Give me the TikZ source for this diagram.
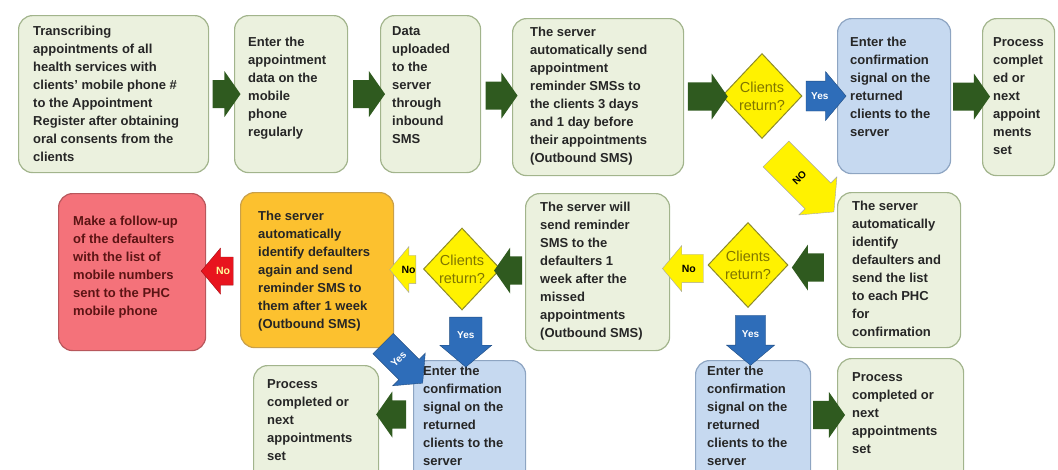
\documentclass[tikz,border=0pt]{standalone}
\usepackage{fontspec}
\setmainfont{Liberation Sans}
\usetikzlibrary{shapes.geometric, shapes.arrows, calc}

\definecolor{boxgreen}{HTML}{EBF1DE}
\definecolor{linegreen}{HTML}{A2B48C}
\definecolor{boxblue}{HTML}{C6D9F0}
\definecolor{lineblue}{HTML}{8EA5C2}
\definecolor{boxorange}{HTML}{FCC12F}
\definecolor{lineorange}{HTML}{C9A04A}
\definecolor{boxred}{HTML}{F4727A}
\definecolor{linered}{HTML}{B8575C}
\definecolor{textred}{HTML}{5C1414}
\definecolor{darkgreen}{HTML}{2F5A1F}
\definecolor{arrowblue}{HTML}{2E6DB9}
\definecolor{arrowred}{HTML}{E8141E}
\definecolor{diamline}{HTML}{8C8A2A}
\definecolor{diamtext}{HTML}{807600}

\tikzset{
    flow/.style={rectangle, rounded corners=14pt, line width=1.2pt,
        anchor=north west, inner sep=0pt},
    gbox/.style={flow, fill=boxgreen, draw=linegreen},
    bbox/.style={flow, fill=boxblue, draw=lineblue},
    obox/.style={flow, fill=boxorange, draw=lineorange},
    rbox/.style={flow, fill=boxred, draw=linered},
    txt/.style={anchor=north west, inner sep=0pt, align=left,
        font=\bfseries\fontsize{13}{18}\selectfont, text=black!85},
    query/.style={diamond, fill=yellow, draw=diamline, line width=1pt,
        inner sep=-4pt, minimum width=80pt, minimum height=85pt, align=center,
        text=diamtext, font=\fontsize{14.5}{18}\selectfont},
    blk/.style={single arrow, inner xsep=0pt, draw=none},
    garrow/.style={blk, fill=darkgreen, inner ysep=11pt, minimum width=46pt,
        single arrow tip angle=110},
    yesarrow/.style={blk, fill=arrowblue, draw=arrowblue!70!black, line width=.4pt,
        text=white, font=\bfseries\fontsize{10}{10}\selectfont,
        text height=7pt, text depth=0pt, inner ysep=7.5pt, minimum width=49pt,
        single arrow tip angle=100},
    noarrow/.style={blk, fill=yellow, draw=gray!70, line width=.4pt,
        font=\bfseries\fontsize{10.5}{10}\selectfont,
        text height=7pt, text depth=0pt, inner ysep=7.5pt, minimum width=46pt,
        single arrow tip angle=100},
    redarrow/.style={noarrow, fill=arrowred, draw=arrowred!70!black, text=yellow!40},
    tilted/.style={rotate=45, inner sep=0pt, font=\bfseries\fontsize{10}{10}\selectfont},
}

\begin{document}
\begin{tikzpicture}[x=1pt, y=-1pt]
    \useasboundingbox (0,0) rectangle (1058,469);
    \clip (0,0) rectangle (1058,469);

    % top row
    \node[gbox, minimum width=190pt, minimum height=157pt] (b1) at (18,15) {};
    \node[txt] (b1t) at ([shift={(15,11)}]b1.north west)
        {Transcribing\\appointments of all\\health services with\\clients' mobile phone \#\\to the Appointment\\Register after obtaining\\oral consents from the\\clients};
    \node[gbox, minimum width=113pt, minimum height=157pt] (b2) at (234,15) {};
    \node[txt] (b2t) at ([shift={(14,22)}]b2.north west)
        {Enter the\\appointment\\data on the\\mobile\\phone\\regularly};
    \node[gbox, minimum width=100pt, minimum height=157pt] (b3) at (380,15) {};
    \node[txt] (b3t) at ([shift={(12,11)}]b3.north west)
        {Data\\uploaded\\to the\\server\\through\\inbound\\SMS};
    \node[gbox, minimum width=171pt, minimum height=157pt] (b4) at (512,18) {};
    \node[txt] (b4t) at ([shift={(18,9)}]b4.north west)
        {The server\\automatically send\\appointment\\reminder SMSs to\\the clients 3 days\\and 1 day before\\their appointments\\(Outbound SMS)};
    \node[query] (d1) at (762,96) {Clients\\return?};
    \node[bbox, minimum width=113pt, minimum height=155pt] (b5) at (837,18) {};
    \node[txt] (b5t) at ([shift={(13,19)}]b5.north west)
        {Enter the\\confirmation\\signal on the\\returned\\clients to the\\server};
    \node[gbox, minimum width=72pt, minimum height=157pt] (b6) at (982,18) {};
    \node[txt] (b6t) at ([shift={(11,19)}]b6.north west)
        {Process\\complet\\ed or\\next\\appoint\\ments\\set};

    \node[garrow, minimum height=28pt] (a12) at ($(b1.east)!.5!(b2.west)$) {};
    \node[garrow, minimum height=32pt] (a23) at ($(b2.east)!.5!(b3.west)$) {};
    \node[garrow, minimum height=32pt] (a34) at ($(b3.east)!.5!(b4.west)$) {};
    \node[garrow, minimum height=40pt] (a4d) at ($(b4.east)!.5!(d1.west)$) {};
    \node[yesarrow, minimum height=40pt] (y1) at ($(d1.east)!.5!(b5.west)$) {Yes};
    \node[garrow, minimum height=37pt] (a56) at ($(b5.east)!.5!(b6.west)$) {};

    % middle row
    \node[gbox, minimum width=123pt, minimum height=155pt] (b7) at (837,192) {};
    \node[txt] (b7t) at ([shift={(15,9)}]b7.north west)
        {The server\\automatically\\identify\\defaulters and\\send the list\\to each PHC\\for\\confirmation};
    \node[query] (d2) at (748,265) {Clients\\return?};
    \node[gbox, minimum width=144pt, minimum height=157pt] (b8) at (525,193) {};
    \node[txt] (b8t) at ([shift={(15,9)}]b8.north west)
        {The server will\\send reminder\\SMS to the\\defaulters 1\\week after the\\missed\\appointments\\(Outbound SMS)};
    \node[query, minimum width=77pt, minimum height=82pt] (d3) at (462,269) {Clients\\return?};
    \node[obox, minimum width=153pt, minimum height=155pt] (b9) at (240,192) {};
    \node[txt] (b9t) at ([shift={(18,19)}]b9.north west)
        {The server\\automatically\\identify defaulters\\again and send\\reminder SMS to\\them after 1 week\\(Outbound SMS)};
    \node[rbox, minimum width=147pt, minimum height=157pt] (b10) at (58,193) {};
    \node[txt, text=textred] (b10t) at ([shift={(15,23)}]b10.north west)
        {Make a follow-up\\of the defaulters\\with the list of\\mobile numbers\\sent to the PHC\\mobile phone};

    \node[noarrow, rotate=-45, minimum height=82pt, minimum width=54pt,
        inner ysep=11pt] (n1) at ($(d1.south)!.5!(b7.north west)+(0,12)$) {};
    \node[tilted] (n1t) at (n1.center) {NO};
    \node[garrow, shape border rotate=180, minimum height=32pt] (a7d) at ($(b7.west)!.5!(d2.east)$) {};
    \node[noarrow, shape border rotate=180, minimum height=41pt] (n2) at ($(d2.west)!.5!(b8.east)$) {No};
    \node[garrow, shape border rotate=180, minimum height=28pt] (a8d) at ($(b8.west)!.5!(d3.east)$) {};
    \node[noarrow, shape border rotate=180, minimum height=26pt] (n3) at ($(d3.west)!.5!(b9.east)$) {No};
    \node[redarrow, shape border rotate=180, minimum height=32pt] (r9) at ($(b9.west)!.5!(b10.east)$) {No};

    % bottom row
    \node[bbox, minimum width=112pt, minimum height=125pt] (b11) at (413,360) {};
    \node[txt] (b11t) at ([shift={(10,6)}]b11.north west)
        {Enter the\\confirmation\\signal on the\\returned\\clients to the\\server};
    \node[gbox, minimum width=125pt, minimum height=120pt] (b12) at (253,365) {};
    \node[txt] (b12t) at ([shift={(14,14)}]b12.north west)
        {Process\\completed or\\next\\appointments\\set};
    \node[bbox, minimum width=115pt, minimum height=125pt] (b13) at (695,360) {};
    \node[txt] (b13t) at ([shift={(12,6)}]b13.north west)
        {Enter the\\confirmation\\signal on the\\returned\\clients to the\\server};
    \node[gbox, minimum width=126pt, minimum height=127pt] (b14) at (837,358) {};
    \node[txt] (b14t) at ([shift={(15,14)}]b14.north west)
        {Process\\completed or\\next\\appointments\\set};

    \node[yesarrow, shape border rotate=270, minimum height=50pt, minimum width=52pt,
        inner xsep=3pt] (yd3) at ($(d3.south)!.5!(b11.north)$) {Yes};
    \node[yesarrow, shape border rotate=270, minimum height=50pt, minimum width=48pt,
        inner xsep=3pt] (yd2) at ($(d2.south)!.5!(b13.north)$) {Yes};
    \node[yesarrow, rotate=-45, minimum height=56pt, minimum width=46pt,
        inner ysep=8pt] (y9) at ($(b9.south east)!.5!(b11.north west)+(-5,5)$) {};
    \node[tilted, text=white] (y9t) at (y9.center) {Yes};
    \node[garrow, shape border rotate=180, minimum height=30pt]
        (a1112) at ($(b11.north west)!.5!(b12.north east)+(0,52)$) {};
    \node[garrow, minimum height=32pt]
        (a1314) at ($(b13.north east)!.5!(b14.north west)+(0,56)$) {};
\end{tikzpicture}
\end{document}
